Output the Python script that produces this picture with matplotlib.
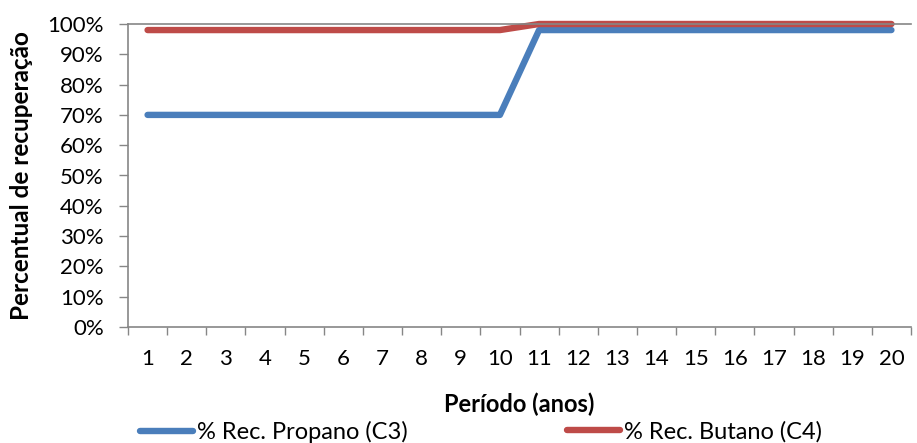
import matplotlib.pyplot as plt
from matplotlib.ticker import FuncFormatter, MultipleLocator

plt.rcParams['font.family'] = ['Lato', 'DejaVu Sans']

# Dados
periodos = list(range(1, 21))
rec_propano = [0.70] * 10 + [0.98] * 10
rec_butano = [0.98] * 10 + [1.00] * 10
rotulos = ["% Rec. Propano (C3)", "% Rec. Butano (C4)"]
cores = ["#4A7EBB", "#BE4B48"]

cor_eixo = "#868686"
tam = 16

fig = plt.figure(figsize=(9.17, 4.43), dpi=100)
ax = fig.add_axes([128 / 917, 1 - 327 / 443, (911 - 128) / 917, (327 - 24) / 443])

l1, = ax.plot(periodos, rec_propano, color=cores[0], lw=4.6, solid_capstyle="round",
              solid_joinstyle="round", clip_on=False)
l2, = ax.plot(periodos, rec_butano, color=cores[1], lw=4.6, solid_capstyle="round",
              solid_joinstyle="round", clip_on=False)

ax.set_xlim(0.5, 20.5)
ax.set_ylim(0, 1)

ax.yaxis.set_major_locator(MultipleLocator(0.1))
ax.yaxis.set_major_formatter(FuncFormatter(lambda v, p: f"{v * 100:.0f}%"))
ax.set_xticks(periodos)
ax.set_xticks([p - 0.5 for p in periodos] + [20.5], minor=True)
ax.tick_params(axis="x", which="major", length=0, pad=16, labelsize=tam)
ax.tick_params(axis="x", which="minor", length=5.8, color=cor_eixo, width=1)
ax.tick_params(axis="y", length=6.5, color=cor_eixo, width=1, labelsize=tam, pad=11)

for lado in ["left", "bottom", "top"]:
    ax.spines[lado].set_color(cor_eixo)
    ax.spines[lado].set_linewidth(1.2)
ax.spines["right"].set_visible(False)

ax.set_ylabel("Percentual de recuperação", fontsize=17.5, fontweight="bold")
ax.yaxis.set_label_coords(-0.121, 0.5)
ax.set_xlabel("Período (anos)", fontsize=17, fontweight="bold")
ax.xaxis.set_label_coords(0.5, -0.215)

# Legenda em duas partes, como no original
for linha, rotulo, x0 in [(l1, rotulos[0], 140), (l2, rotulos[1], 567)]:
    fig.legend([linha], [rotulo], loc="center left", bbox_to_anchor=(x0 / 917, 0.025),
               frameon=False, fontsize=17, handlelength=2.25, handletextpad=0.17,
               borderpad=0, borderaxespad=0)

fig.savefig("out.png", dpi=100)
